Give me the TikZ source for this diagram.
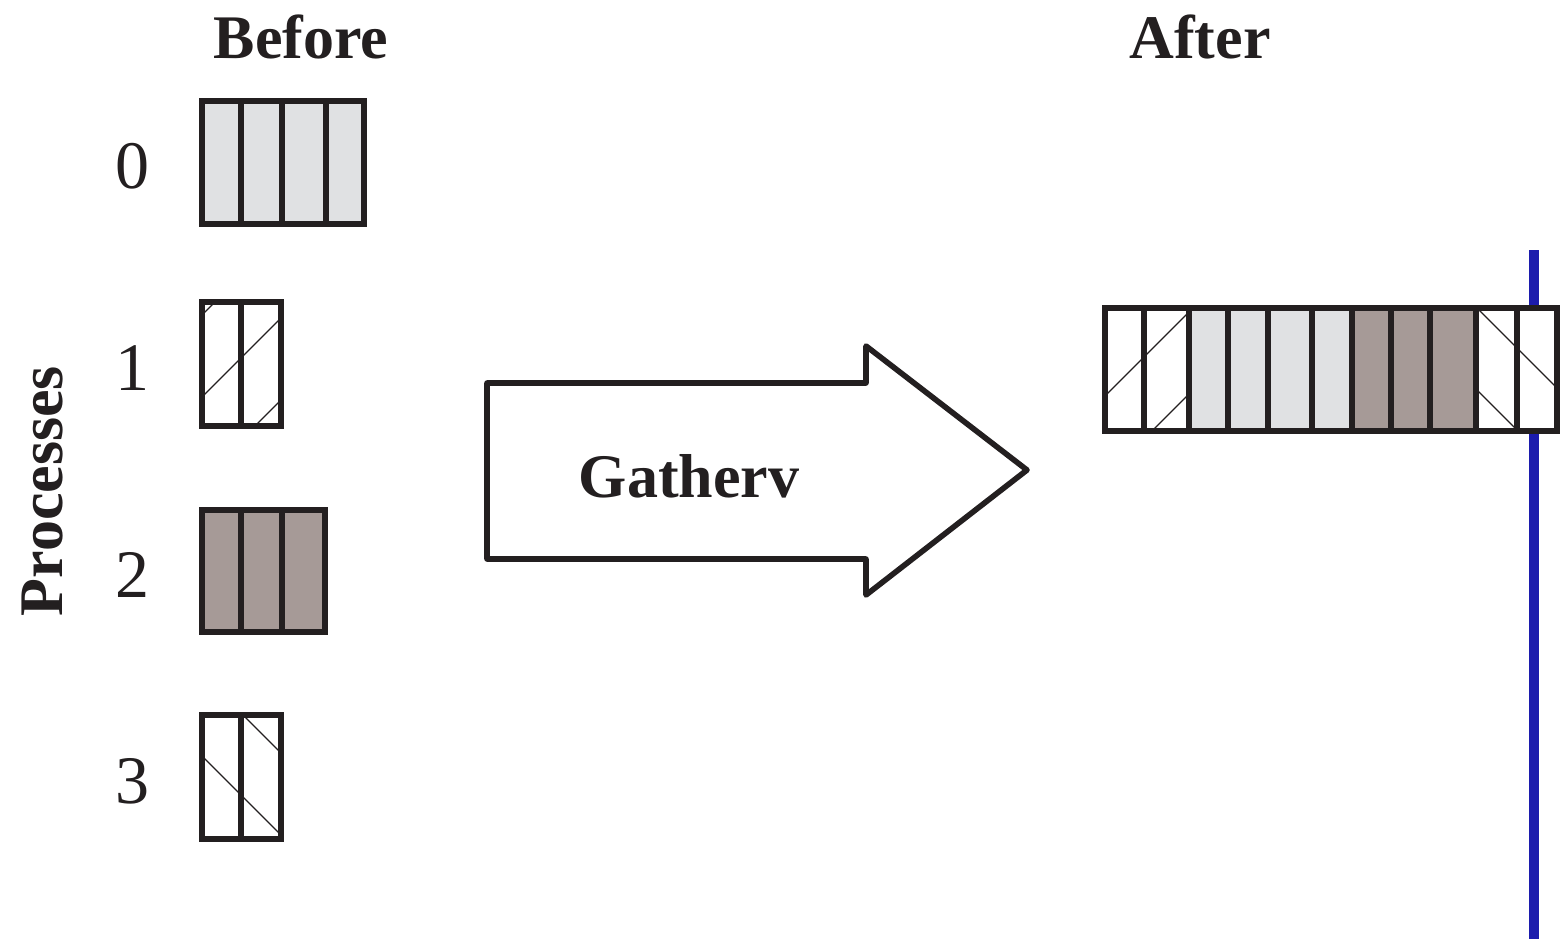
\documentclass[tikz,border=0pt]{standalone}
\usepackage{fontspec}
\setmainfont{Liberation Serif}
\definecolor{ink}{HTML}{231F20}
\definecolor{lightcell}{HTML}{E0E1E3}
\definecolor{darkcell}{HTML}{A69A97}
\definecolor{rankline}{HTML}{1C1CAD}
\tikzset{
  cellbox/.style={draw=ink, line width=2.8pt},
  hatchline/.style={draw=ink, line width=0.6pt},
  title/.style={font=\fontsize{31}{36}\selectfont\bfseries, text=ink, inner sep=0pt, anchor=base},
  ranklabel/.style={font=\fontsize{34}{40}\selectfont, text=ink, inner sep=0pt},
  bigarrow/.style={draw=ink, line width=2.8pt, line join=round, fill=white},
}
\begin{document}
\begin{tikzpicture}[x=0.5pt, y=-0.5pt]
\useasboundingbox (0,0) rectangle (1560,939);

% headings
\node[title] (before) at (301,58) {Before};
\node[title] (after) at (1200,58) {After};
\node[title, rotate=90] (procs) at (62,491) {Processes};

% process ranks
\node[ranklabel] (r0) at (132,166) {0};
\node[ranklabel] (r1) at (132,368) {1};
\node[ranklabel] (r2) at (132,575) {2};
\node[ranklabel] (r3) at (132,781) {3};

% vertical marker line behind the gathered buffer
\draw[rankline, line width=5pt] (1533.5,250) -- (1533.5,939);

% rank 0: four light cells
\foreach \a/\b in {202/241,241/282,282/326,326/364}
  \draw[cellbox, fill=lightcell] (\a,101) rectangle (\b,224);

% rank 1: two hatched cells (rising lines)
\begin{scope}
  \clip (202,302) rectangle (281,426);
  \foreach \c in {517,599,681}
    \draw[hatchline] (\c-426,426) -- (\c-302,302);
\end{scope}
\foreach \a/\b in {202/241,241/281}
  \draw[cellbox] (\a,302) rectangle (\b,426);

% rank 2: three dark cells
\foreach \a/\b in {202/241,241/282,282/325}
  \draw[cellbox, fill=darkcell] (\a,510) rectangle (\b,632);

% rank 3: two hatched cells (falling lines)
\begin{scope}
  \clip (202,715) rectangle (281,839);
  \foreach \d in {-472,-554}
    \draw[hatchline] (715+\d,715) -- (839+\d,839);
\end{scope}
\foreach \a/\b in {202/241,241/281}
  \draw[cellbox] (\a,715) rectangle (\b,839);

% Gatherv arrow
\draw[bigarrow] (487,383) -- (866,383) -- (866,346) -- (1027,470)
  -- (866,595) -- (866,559) -- (487,559) -- cycle;
\node[title] (gatherv) at (689,497) {Gatherv};

% gathered buffer on the root
\fill[white] (1105,308) rectangle (1557,431);
\begin{scope}
  \clip (1105,308) rectangle (1189,431);
  \foreach \c in {1501,1583}
    \draw[hatchline] (\c-431,431) -- (\c-308,308);
\end{scope}
\begin{scope}
  \clip (1476,308) rectangle (1557,431);
  \foreach \d in {1169,1087}
    \draw[hatchline] (308+\d,308) -- (431+\d,431);
\end{scope}
\foreach \a/\b in {1105/1144,1144/1189,1476/1517,1517/1557}
  \draw[cellbox] (\a,308) rectangle (\b,431);
\foreach \a/\b in {1189/1228,1228/1268,1268/1312,1312/1352}
  \draw[cellbox, fill=lightcell] (\a,308) rectangle (\b,431);
\foreach \a/\b in {1352/1391,1391/1430,1430/1476}
  \draw[cellbox, fill=darkcell] (\a,308) rectangle (\b,431);
\end{tikzpicture}
\end{document}
